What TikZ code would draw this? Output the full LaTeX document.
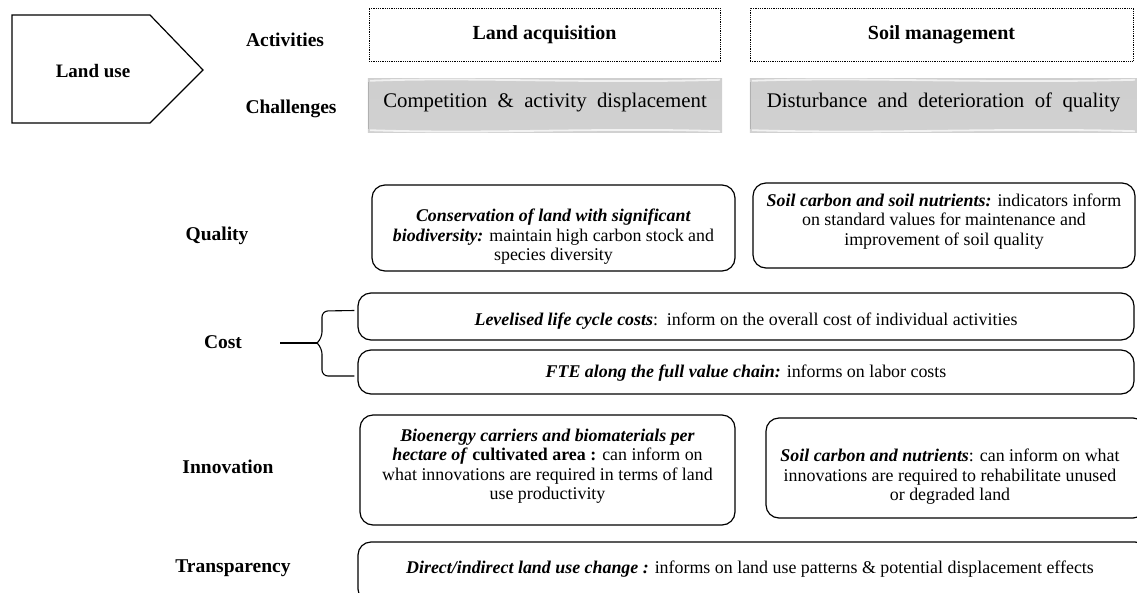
\documentclass[tikz,border=0pt]{standalone}
\usepackage{fontspec}
\setmainfont{Liberation Serif}
\usetikzlibrary{calc}
\newcommand\bi[1]{\textbf{\textit{#1}}}
\begin{document}
\begin{tikzpicture}[x=1pt,y=-1pt,
  lbl/.style={font=\fontsize{19.5}{22}\selectfont\bfseries, inner sep=0pt},
  body/.style={font=\fontsize{17.9}{19.5}\selectfont, align=center, inner sep=0pt},
  chtext/.style={font=\fontsize{20.8}{24}\selectfont, inner sep=0pt},
  actbox/.style={draw, line width=0.9pt, dash pattern=on 0.9pt off 0.9pt,
    inner sep=0pt, minimum height=53pt},
  chbox/.style={inner sep=0pt, minimum height=53pt},
  ibox/.style={draw, line width=1.2pt, rounded corners=13pt, inner sep=0pt},
  brace/.style={line width=1.1pt, rounded corners=6pt}]
\useasboundingbox (0,0) rectangle (1137,592);
\clip (0,0) rectangle (1137,592);

% land use pentagon
\draw[line width=1.2pt] (12,15) -- (150,15) -- (203,70) -- (150,123) -- (12,123) -- cycle;
\node[lbl, font=\fontsize{19}{22}\selectfont\bfseries] (landuse) at (93,71) {Land use};

% row labels
\node[lbl] (activities) at (285,40) {Activities};
\node[lbl] (challenges) at (291,109) {Challenges};
\node[lbl] (quality) at (217,236) {Quality};
\node[lbl] (cost) at (223,342) {Cost};
\node[lbl] (innovation) at (228,467) {Innovation};
\node[lbl] (transparency) at (233,568) {Transparency};

% activities
\node[actbox, minimum width=351pt] (acq) at (544.5,34.5)
  {\fontsize{20}{24}\selectfont\bfseries Land acquisition};
\node[actbox, minimum width=383pt] (soil) at (941.5,34.5)
  {\fontsize{20}{24}\selectfont\bfseries Soil management};

% challenges: shaded bands with light wavy edges
\node[chbox, minimum width=354pt] (ch1) at (545,105.5) {};
\node[chbox, minimum width=387pt] (ch2) at (943.5,105.5) {};
\foreach \c in {ch1,ch2}{
  \shade[top color=gray!38, middle color=gray!48, bottom color=gray!36]
    (\c.north west) rectangle (\c.south east);
  \draw[gray!12, line width=1.8pt]
    ($(\c.north west)+(2,2)$) .. controls ($(\c.north west)!0.3!(\c.north east)+(0,-2)$)
    and ($(\c.north west)!0.6!(\c.north east)+(0,5)$) .. ($(\c.north east)+(-2,1)$);
  \draw[gray!10, line width=1.8pt]
    ($(\c.south west)+(2,-2)$) .. controls ($(\c.south west)!0.35!(\c.south east)+(0,2)$)
    and ($(\c.south west)!0.65!(\c.south east)+(0,-5)$) .. ($(\c.south east)+(-2,-1)$);
  \draw[gray!62, line width=0.9pt] ($(\c.north west)+(1,3)$) -- ($(\c.south west)+(1,-3)$);
}
\node[chtext] (ch1t) at ($(ch1.center)+(0,-3)$) {Competition \ \& \ activity \ displacement};
\node[chtext] (ch2t) at ($(ch2.center)+(0,-3)$) {Disturbance \ and \ deterioration \ of \ quality};

% quality
\node[ibox, minimum width=363pt, minimum height=86pt] (q1) at (553.5,228) {};
\node[body] (q1t) at ($(q1.center)+(0,9)$)
  {\bi{Conservation of land with significant}\\
   \bi{biodiversity:} maintain high carbon stock and\\ species diversity};
\node[ibox, minimum width=382pt, minimum height=85pt] (q2) at (944,225.5) {};
\node[body] (q2t) at ($(q2.center)+(0,-4)$)
  {\bi{Soil carbon and soil nutrients:} indicators inform\\
   on standard values for maintenance and\\ improvement of soil quality};

% cost
\node[ibox, minimum width=776pt, minimum height=47pt] (c1) at (746,316.5) {};
\node[body] (c1t) at ($(c1.center)+(0,5)$)
  {\bi{Levelised life cycle costs}:\ \ inform on the overall cost of individual activities};
\node[ibox, minimum width=776pt, minimum height=44pt] (c2) at (746,372) {};
\node[body] (c2t) at ($(c2.center)+(0,1)$)
  {\bi{FTE along the full value chain:} informs on labor costs};

% brace grouping the cost boxes
\coordinate (tip) at (317,343);
\draw[brace] ($(c1.west)+(-3,-6)$) -- (322,311) -- (322,338) -- (tip);
\draw[brace] ($(c2.west)+(-3,4)$) -- (322,376) -- (322,348) -- (tip);
\draw[line width=1.1pt] (280,343) -- (tip);

% innovation
\node[ibox, minimum width=375pt, minimum height=110pt] (i1) at (547.5,470) {};
\node[body] (i1t) at ($(i1.center)+(0,-4)$)
  {\bi{Bioenergy carriers and biomaterials per}\\
   \bi{hectare of} \textbf{cultivated area :} can inform on\\
   what innovations are required in terms of land\\ use productivity};
\node[ibox, minimum width=380pt, minimum height=100pt] (i2) at (956,468) {};
\node[body] (i2t) at (950,477)
  {\bi{Soil carbon and nutrients}: can inform on what\\
   innovations are required to rehabilitate unused\\ or degraded land};

% transparency
\node[ibox, minimum width=790pt, minimum height=60pt] (tr) at (753,572) {};
\node[body] (trt) at (750,569)
  {\bi{Direct/indirect land use change :} informs on land use patterns \& potential displacement effects};
\end{tikzpicture}
\end{document}
